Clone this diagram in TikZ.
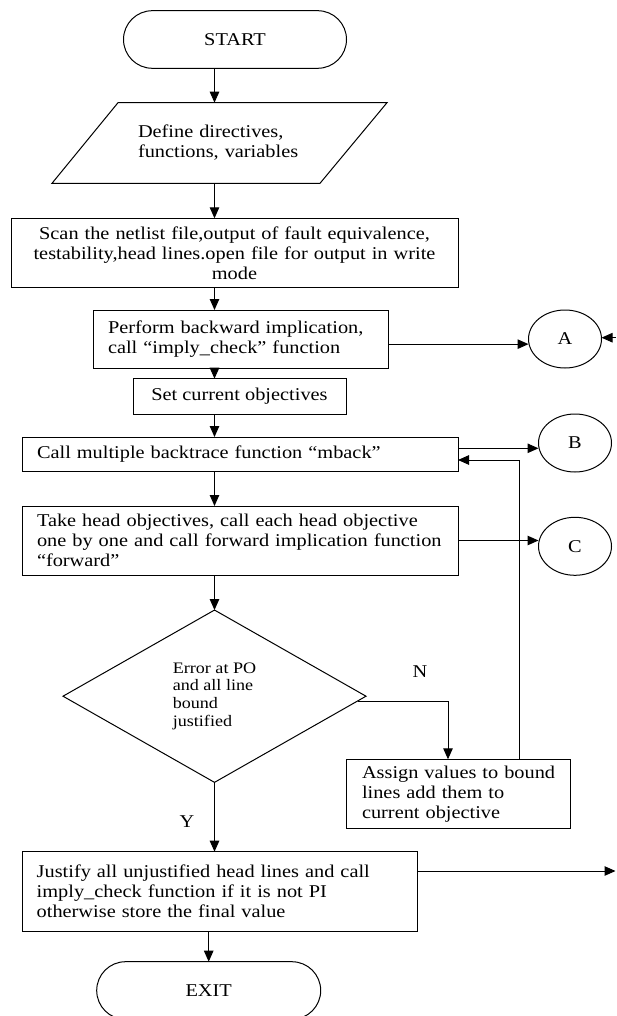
\documentclass[tikz,border=0pt]{standalone}
\usepackage{fontspec}
\setmainfont[FakeStretch=1.13]{Liberation Serif}
\usetikzlibrary{arrows.meta,shapes.geometric}

\begin{document}
\begin{tikzpicture}[x=1pt,y=-1pt,
  line width=1pt,
  every node/.style={font=\fontsize{18}{20}\selectfont, inner sep=0pt, outer sep=0pt},
  terminal/.style={draw, rectangle, rounded corners=28.8pt, minimum width=223pt, minimum height=57.6pt},
  proc/.style={draw, rectangle},
  connector/.style={draw, ellipse, minimum width=73pt, minimum height=58pt},
  decision/.style={draw, diamond, minimum width=303pt, minimum height=172.3pt, align=left,
    font=\fontsize{16}{17.8}\selectfont},
  flag/.style={font=\fontsize{18}{20}\selectfont},
  arr/.style={-{Triangle[length=11pt,width=9.5pt]}}
]
\useasboundingbox (0,0) rectangle (616,1016);

% main flow column and loop column
\coordinate (spine) at (214.5,0);
\coordinate (loopx) at (519.5,0);
\coordinate (nx) at (448,0);

% terminals
\node[terminal] (start) at (235,39.5) {START};
\node[terminal, minimum width=224pt] (exit) at (208.7,990.5) {EXIT};

% input parallelogram: text node plus its slanted outline
\node[minimum width=269pt, minimum height=80.6pt, inner xsep=53.25pt, text width=162.5pt, align=left]
  (def) at (219.25,143) {\mbox{Define directives,}\\\mbox{functions, variables}};
\draw ([shift={(-101.25,-40.3)}]def.center) -- ([shift={(167.75,-40.3)}]def.center)
   -- ([shift={(100.75,40.3)}]def.center) -- ([shift={(-167.25,40.3)}]def.center) -- cycle;

% process boxes
\node[proc, minimum width=447pt, minimum height=69pt, inner xsep=8.5pt, text width=430pt, align=center]
  (scan) at (234.5,252.8) {Scan the netlist file,output of fault equivalence,\\testability,head lines.open file for output in write\\mode};
\node[proc, minimum width=295pt, minimum height=58.3pt, inner xsep=15pt, text width=265pt, align=left]
  (perf) at (240.5,339.15) {\mbox{Perform backward implication,}\\\mbox{call “imply\_check” function}};
\node[proc, minimum width=213pt, minimum height=35.6pt] (setobj) at (239.5,396.5) {Set current objectives};
\node[proc, minimum width=436pt, minimum height=34.3pt, inner xsep=15pt, text width=406pt, align=left]
  (mback) at (240,454.15) {\mbox{Call multiple backtrace function “mback”}};
\node[proc, minimum width=436pt, minimum height=69pt, inner xsep=15pt, text width=406pt, align=left]
  (take) at (240,540.5) {\mbox{Take head objectives, call each head objective}\\\mbox{one by one and call forward implication function}\\\mbox{“forward”}};
\node[decision] (dec) at (214.5,696.2) {Error at PO\\and all line\\bound\\justified};
\node[proc, minimum width=224.6pt, minimum height=69pt, inner xsep=16pt, text width=192.6pt, align=left]
  (assign) at (458.3,793.8) {\mbox{Assign values to bound}\\\mbox{lines add them to}\\\mbox{current objective}};
\node[proc, minimum width=395pt, minimum height=79.3pt, inner xsep=14.7pt, text width=365.6pt, align=left]
  (justify) at (219.5,891.35) {\mbox{Justify all unjustified head lines and call}\\\mbox{imply\_check function if it is not PI}\\\mbox{otherwise store the final value}};

% off-page connectors
\node[connector] (A) at (565,339) {A};
\node[connector] (B) at (575,443) {B};
\node[connector] (C) at (575,546.3) {C};

% branch labels
\node[flag] (nlab) at (420,671.7) {N};
\node[flag] (ylab) at (187,821.7) {Y};

% free ends at the right border
\coordinate (aIn) at (616,337.7);
\coordinate (jOut) at (615.5,871);

% main flow
\draw[arr] (spine |- start.south) -- (spine |- def.north);
\draw[arr] (spine |- def.south) -- (spine |- scan.north);
\draw[arr] (spine |- scan.south) -- (spine |- perf.north);
\draw[arr] (spine |- perf.south) -- (spine |- setobj.north);
\draw[arr] (spine |- setobj.south) -- (spine |- mback.north);
\draw[arr] (spine |- mback.south) -- (spine |- take.north);
\draw[arr] (spine |- take.south) -- (dec.north);
\draw[arr] (dec.south) -- (dec.south |- justify.north);
\draw[arr] (justify.south -| exit.north) -- (exit.north);

% no branch and loop back
\draw[arr] ([shift={(-8.4,5.5)}]dec.east) -| (nx |- assign.north);
\draw[arr] (loopx |- assign.north) |- ([yshift=-5.85pt]mback.east);

% connectors to A, B, C and out
\draw[arr] ([yshift=-5pt]perf.east) -- ([yshift=-5pt]perf.east -| A.west);
\draw[arr] (aIn) -- (aIn -| A.east);
\draw[arr] ([yshift=5.85pt]mback.east) -- ([yshift=5.85pt]mback.east -| B.west);
\draw[arr] (take.east) -- (take.east -| C.west);
\draw[arr] ([yshift=20.35pt]justify.east) -- (jOut);
\end{tikzpicture}
\end{document}
